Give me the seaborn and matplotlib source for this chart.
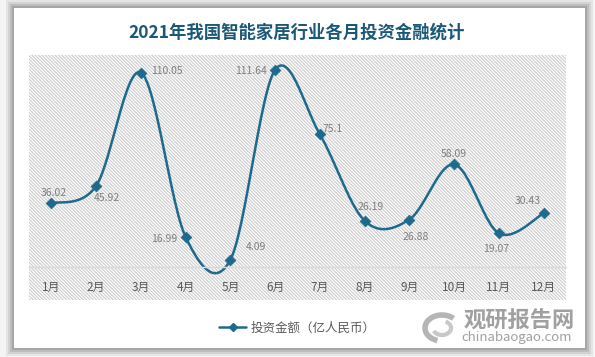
import numpy as np
import pandas as pd
import seaborn as sns
import matplotlib.pyplot as plt
from matplotlib.patches import Rectangle, Arc
from matplotlib.lines import Line2D

# 数据
months = ['1月', '2月', '3月', '4月', '5月', '6月', '7月', '8月', '9月', '10月', '11月', '12月']
values = [36.02, 45.92, 110.05, 16.99, 4.09, 111.64, 75.1, 26.19, 26.88, 58.09, 19.07, 30.43]
series_name = '投资金额（亿人民币）'
title = '2021年我国智能家居行业各月投资金融统计'

# 标签偏移 (像素) 和对齐
label_off = [(2, 10, 'center'), (11, -12, 'center'), (10, 2, 'left'), (-8, -2, 'right'),
             (15, 13, 'left'), (-8, -1, 'right'), (3, 5, 'left'), (6, 14, 'center'),
             (6, -17, 'center'), (0, 10, 'center'), (-3, -16, 'center'), (-16, 12, 'center')]

sns.set_theme(style='white')
plt.rcParams['font.family'] = ['Noto Sans CJK SC', 'DejaVu Sans']
plt.rcParams['hatch.linewidth'] = 0.8
plt.rcParams['hatch.color'] = '#cccccc'

line_c = '#1e6a8d'
W, H = 595, 357
fig = plt.figure(figsize=(W / 100, H / 100), dpi=100)
fig.patch.set_facecolor('#ffffff')


def fr(x0, y0, x1, y1, **kw):
    # 像素坐标 -> figure 坐标矩形
    r = Rectangle((x0 / W, 1 - y1 / H), (x1 - x0) / W, (y1 - y0) / H,
                  transform=fig.transFigure, **kw)
    fig.patches.append(r)
    return r


# 阴影 + 卡片
fr(0, 0, W, H, facecolor='#f4f4f4', edgecolor='none', zorder=-10)
for i, a in enumerate([0.06, 0.08, 0.1, 0.12]):
    d = 8 - 2 * i
    fr(14 - d, 8 - d, 585 + d, 348 + d, facecolor='#000000', alpha=a, edgecolor='none', zorder=-9)
fr(14, 8, 585, 348, facecolor='white', edgecolor='none', zorder=-8)
# 斜线底纹
fr(29, 55, 566, 300, facecolor='white', edgecolor='#cccccc', linewidth=0,
   hatch='\\' * 10, zorder=-7)

ax = fig.add_axes([29 / W, 1 - 267 / H, (566 - 29) / W, (267 - 55) / H])
ax.set_facecolor('none')

# 平滑曲线 (Excel 风格 Bezier)
x = np.arange(len(values), dtype=float)
y = np.array(values, dtype=float)
px = np.concatenate([[x[0]], x, [x[-1]]])
py = np.concatenate([[y[0]], y, [y[-1]]])
sx, sy = [], []
t = np.linspace(0, 1, 30)
for i in range(len(x) - 1):
    p0 = np.array([px[i + 1], py[i + 1]])
    p3 = np.array([px[i + 2], py[i + 2]])
    p1 = p0 + (p3 - np.array([px[i], py[i]])) / 6
    p2 = p3 - (np.array([px[i + 3], py[i + 3]]) - p0) / 6
    b = (np.outer((1 - t) ** 3, p0) + np.outer(3 * (1 - t) ** 2 * t, p1)
         + np.outer(3 * (1 - t) * t ** 2, p2) + np.outer(t ** 3, p3))
    sx.extend(b[:, 0])
    sy.extend(b[:, 1])
curve = pd.DataFrame({'x': sx, 'y': sy})
sns.lineplot(data=curve, x='x', y='y', ax=ax, color=line_c, linewidth=1.8,
             sort=False, estimator=None, clip_on=False, legend=False)
df = pd.DataFrame({'x': x, 'y': y})
sns.scatterplot(data=df, x='x', y='y', ax=ax, marker='D', s=30, color=line_c,
                edgecolor=line_c, linewidth=0.5, zorder=5, clip_on=False, legend=False)

for xi, yi, (dx, dy, ha) in zip(x, y, label_off):
    ax.annotate(f'{yi:g}', (xi, yi), xytext=(dx, dy), textcoords='offset pixels',
                ha=ha, va='center', fontsize=7.5, color='#7f7f7f')

ax.set_xlim(-0.5, 11.5)
ax.set_ylim(0, 120)
ax.set_xticks(x)
ax.set_xticklabels(months, fontsize=8.5, color='#595959')
ax.tick_params(axis='x', length=0, pad=10)
ax.set_yticks([])
ax.set_xlabel('')
ax.set_ylabel('')
for s in ['top', 'left', 'right']:
    ax.spines[s].set_visible(False)
ax.spines['bottom'].set_color('#d9d9d9')
ax.spines['bottom'].set_linewidth(1)

fig.text(297 / W, 1 - 33 / H, title, ha='center', va='center', fontsize=12.5,
         fontweight='bold', color='#1a5878')

h = Line2D([], [], color=line_c, linewidth=1.8, marker='D', markersize=4)
fig.legend([h], [series_name], loc='center', bbox_to_anchor=(297 / W, 1 - 328 / H),
           frameon=False, fontsize=9, labelcolor='#595959', handlelength=2.2,
           handletextpad=0.3)

# 水印
fig.text(519 / W, 1 - 321 / H, '观研报告网', ha='center', va='center', fontsize=16,
         fontweight='bold', color='#a0a0a0')
fig.text(517 / W, 1 - 338 / H, 'chinabaogao.com', ha='center', va='center', fontsize=9.5,
         color='#a0a0a0')
lg = fig.add_axes([418 / W, 1 - 346 / H, 44 / W, 36 / H])
lg.set_xlim(-22, 22)
lg.set_ylim(-18, 18)
lg.axis('off')
lg.add_patch(Arc((2, 0), 34, 26, theta1=40, theta2=250, color='#b5b5b5', linewidth=4))
lg.add_patch(Arc((2, 0), 18, 14, theta1=200, theta2=60, color='#c8c8c8', linewidth=3))

fig.savefig('out.png', dpi=100)
